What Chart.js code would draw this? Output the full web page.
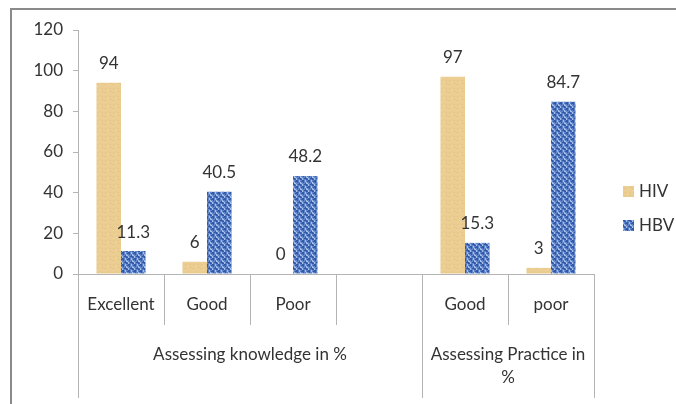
<!DOCTYPE html>
<html>
<head>
<meta charset="utf-8">
<script src="https://cdn.jsdelivr.net/npm/chart.js@4/dist/chart.umd.min.js"></script>
<style>
  html, body { margin: 0; padding: 0; background: #fff; }
</style>
</head>
<body>
<canvas id="chart" width="676" height="404"></canvas>
<script>
// Data
const categories = ['Excellent', 'Good', 'Poor', '', 'Good', 'poor'];
const hivValues = [94, 6, 0, null, 97, 3];
const hbvValues = [11.3, 40.5, 48.2, null, 15.3, 84.7];
const yTicks = [0, 20, 40, 60, 80, 100, 120];
const groupNames = [['Assessing knowledge in %'], ['Assessing Practice in', '%']];
const groupStarts = [0, 4]; // first category index of each group

const FONT = 'Lato, "Open Sans", sans-serif';
const FONT_SIZE = 17;
const TEXT = '#333333';
const AXIS = '#b4b4b4';

// Small textured fills, like the office-chart bar textures
function makePattern(base, map, colors) {
    const rows = map.length, cols = map[0].length;
    const c = document.createElement('canvas');
    c.width = cols; c.height = rows;
    const g = c.getContext('2d');
    g.fillStyle = base;
    g.fillRect(0, 0, cols, rows);
    for (let r = 0; r < rows; r++) {
        for (let k = 0; k < cols; k++) {
            const ch = map[r][k];
            if (colors[ch]) {
                g.fillStyle = colors[ch];
                g.fillRect(k, r, 1, 1);
            }
        }
    }
    return g.createPattern(c, 'repeat');
}

const ctx0 = document.getElementById('chart').getContext('2d');
const hivFill = makePattern('#ebcd92', [
    '.-....-.',
    '........',
    '...o....',
    '......-.',
    '-.......',
    '....o...',
    '.o......',
    '........'
], { '-': '#e2c486', 'o': '#f1d9a6' });
const hbvFill = makePattern('#5f84c9', [
    '..##.o',
    '.###.o',
    'o..#..',
    'oo...#',
    '#.o.##',
    '##o...'
], { '#': '#3159a8', 'o': '#a6bfea' });

// Frame, x-axis dividers, group labels, value labels, legend
const decorPlugin = {
    id: 'decor',
    beforeDraw(chart) {
        const ctx = chart.ctx;
        ctx.save();
        ctx.fillStyle = '#fff';
        ctx.fillRect(0, 0, chart.width, chart.height);
        ctx.strokeStyle = '#8a8a8a';
        ctx.lineWidth = 2;
        ctx.beginPath();
        ctx.moveTo(11, chart.height);
        ctx.lineTo(11, 9);
        ctx.lineTo(chart.width, 9);
        ctx.stroke();
        ctx.restore();
    },
    afterDatasetsDraw(chart) {
        const ctx = chart.ctx;
        ctx.save();
        ctx.font = FONT_SIZE + 'px ' + FONT;
        ctx.fillStyle = TEXT;
        ctx.textAlign = 'center';
        ctx.textBaseline = 'middle';
        chart.data.datasets.forEach((ds, i) => {
            chart.getDatasetMeta(i).data.forEach((bar, j) => {
                const v = ds.data[j];
                if (v === null) return;
                ctx.fillText(String(v), bar.x, bar.y - 19);
            });
        });
        ctx.restore();
    },
    afterDraw(chart) {
        const { ctx, chartArea, scales: { x } } = chart;
        const half = (x.getPixelForTick(1) - x.getPixelForTick(0)) / 2;
        const bounds = categories.map((_, i) => x.getPixelForTick(i) - half);
        bounds.push(x.getPixelForTick(categories.length - 1) + half);
        const longIdx = groupStarts.concat([categories.length]);
        const bottom = chartArea.bottom;

        ctx.save();
        ctx.strokeStyle = AXIS;
        ctx.lineWidth = 1;
        ctx.beginPath();
        ctx.moveTo(chartArea.left, bottom + 0.5);
        ctx.lineTo(bounds[bounds.length - 1], bottom + 0.5);
        bounds.forEach((bx, i) => {
            const px = Math.round(bx) + 0.5;
            ctx.moveTo(px, bottom);
            ctx.lineTo(px, bottom + (longIdx.includes(i) ? 124 : 51));
        });
        ctx.stroke();

        // group labels
        ctx.font = FONT_SIZE + 'px ' + FONT;
        ctx.fillStyle = TEXT;
        ctx.textAlign = 'center';
        ctx.textBaseline = 'middle';
        groupNames.forEach((lines, g) => {
            const from = bounds[groupStarts[g]];
            const to = bounds[g + 1 < groupStarts.length ? groupStarts[g + 1] : categories.length];
            const cx = (from + to) / 2;
            lines.forEach((line, k) => ctx.fillText(line, cx, bottom + 81 + k * 23));
        });

        // legend
        const lx = chartArea.right + 29;
        const ly = [191, 225];
        chart.data.datasets.forEach((ds, i) => {
            ctx.fillStyle = ds.backgroundColor;
            ctx.fillRect(lx, ly[i] - 5, 11, 11);
            ctx.fillStyle = TEXT;
            ctx.textAlign = 'left';
            ctx.fillText(ds.label, lx + 16, ly[i] + 1);
        });
        ctx.restore();
    }
};

new Chart(ctx0, {
    type: 'bar',
    data: {
        labels: categories,
        datasets: [
            { label: 'HIV', data: hivValues, backgroundColor: hivFill },
            { label: 'HBV', data: hbvValues, backgroundColor: hbvFill }
        ]
    },
    options: {
        responsive: false,
        animation: false,
        layout: { padding: { top: 30, right: 82, bottom: 0, left: 0 } },
        datasets: {
            bar: { categoryPercentage: 0.57, barPercentage: 1.0 }
        },
        plugins: {
            legend: { display: false },
            tooltip: { enabled: false }
        },
        scales: {
            x: {
                grid: { display: false },
                border: { display: false },
                ticks: {
                    padding: 12,
                    color: TEXT,
                    font: { family: FONT, size: FONT_SIZE },
                    maxRotation: 0,
                    autoSkip: false
                },
                afterFit: function(scale) { scale.height = 130; }
            },
            y: {
                min: yTicks[0],
                max: yTicks[yTicks.length - 1],
                grid: {
                    drawOnChartArea: false,
                    drawTicks: true,
                    tickLength: 5,
                    color: AXIS
                },
                border: { display: true, color: AXIS },
                ticks: {
                    padding: 10,
                    color: TEXT,
                    font: { family: FONT, size: FONT_SIZE }
                },
                afterBuildTicks: function(scale) {
                    scale.ticks = yTicks.map(v => ({ value: v }));
                },
                afterFit: function(scale) { scale.width = 78; }
            }
        }
    },
    plugins: [decorPlugin]
});
</script>
</body>
</html>
